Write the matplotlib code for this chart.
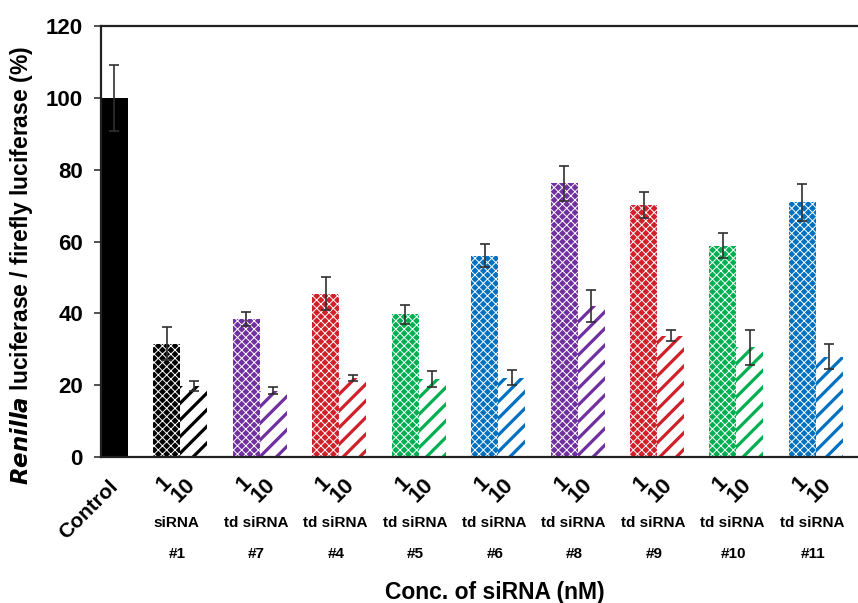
import matplotlib
matplotlib.use("Agg")
import matplotlib.pyplot as plt
import numpy as np

plt.rcParams["font.family"] = ["Liberation Sans", "DejaVu Sans"]
plt.rcParams["font.weight"] = "bold"

# data
control_value = 100.0
control_err = 9.2
group_colors = ["#000000", "#7030A0", "#D0202A", "#00B050", "#0070C0",
                "#7030A0", "#D0202A", "#00B050", "#0070C0"]
group_kind = ["siRNA"] + ["td siRNA"] * 8
group_ids = ["#1", "#7", "#4", "#5", "#6", "#8", "#9", "#10", "#11"]
vals_1nm = [31.5, 38.5, 45.5, 39.7, 56.0, 76.2, 70.2, 58.8, 70.9]
err_1nm = [4.6, 2.0, 4.5, 2.7, 3.2, 4.9, 3.7, 3.5, 5.2]
vals_10nm = [19.8, 18.5, 22.1, 21.7, 22.1, 42.0, 33.8, 30.5, 27.9]
err_10nm = [1.5, 0.9, 0.8, 2.3, 2.0, 4.4, 1.5, 4.8, 3.5]
conc_labels = ["1", "10"]
yticks = [0, 20, 40, 60, 80, 100, 120]

INK = "#000000"
ERR = "#303030"
W = 0.34

fig = plt.figure(figsize=(8.58, 6.03), dpi=100)
ax = fig.add_axes([0.1177, 0.2421, 0.8823, 0.7148])

groups = np.arange(1, len(vals_1nm) + 1)
ctrl_x = W / 2

err_kw = dict(ecolor=ERR, elinewidth=1.2, capsize=3.3, capthick=1.2)

ax.bar([ctrl_x], [control_value], width=W, color="black", linewidth=0,
       yerr=[control_err], error_kw=err_kw, zorder=2)

for i, g in enumerate(groups):
    c = group_colors[i]
    with plt.rc_context({"hatch.linewidth": 0.7}):
        b1 = ax.bar(g - W / 2, vals_1nm[i], width=W, color=c, edgecolor="white",
                    hatch="xxxx", linewidth=0, yerr=err_1nm[i], error_kw=err_kw, zorder=2)
    with plt.rc_context({"hatch.linewidth": 2.3}):
        b2 = ax.bar(g + W / 2, vals_10nm[i], width=W, color="white", edgecolor=c,
                    hatch="//", linewidth=0, yerr=err_10nm[i], error_kw=err_kw, zorder=2)
    for p in b1.patches:
        if hasattr(p, "set_hatch_linewidth"):
            p.set_hatch_linewidth(0.7)
    for p in b2.patches:
        if hasattr(p, "set_hatch_linewidth"):
            p.set_hatch_linewidth(2.3)

ax.set_xlim(0, 9.53)
ax.set_ylim(0, 120)
ax.set_yticks(yticks)
ax.set_yticklabels([str(t) for t in yticks], fontsize=16, fontweight="bold")
ax.set_xticks([])
ax.tick_params(axis="y", direction="out", length=5, width=1.2, colors="#333333",
               labelcolor=INK, pad=8)

ax.spines["right"].set_visible(False)
for s in ("left", "top", "bottom"):
    ax.spines[s].set_linewidth(1.6)
    ax.spines[s].set_color("#222222")

# category labels under the axis
ax.text(0.26, -5.5, "Control", rotation=45, ha="right", va="top", fontsize=15,
        fontweight="bold", clip_on=False)
for i, g in enumerate(groups):
    ax.text(g - 0.2, -7.5, conc_labels[0], rotation=45, ha="center", va="center",
            fontsize=16, fontweight="bold", clip_on=False)
    ax.text(g + 0.04, -9.3, conc_labels[1], rotation=45, ha="center", va="center",
            fontsize=16, fontweight="bold", clip_on=False)
    ax.text(g - 0.05, -18.4, group_kind[i], ha="center", va="center", fontsize=11,
            fontweight="bold", clip_on=False)
    ax.text(g - 0.04, -27.0, group_ids[i], ha="center", va="center", fontsize=11,
            fontweight="bold", clip_on=False)

fig.text(495 / 858, 1 - 592 / 603, "Conc. of siRNA (nM)", ha="center", va="center",
         fontsize=16.5, fontweight="bold")
fig.text(22 / 858, 1 - 266 / 603,
         r"$\bf\it{Renilla}$" + " luciferase / firefly luciferase (%)",
         rotation=90, ha="center", va="center", fontsize=16.5, fontweight="bold")

fig.savefig("out.png", dpi=100, facecolor="white")
